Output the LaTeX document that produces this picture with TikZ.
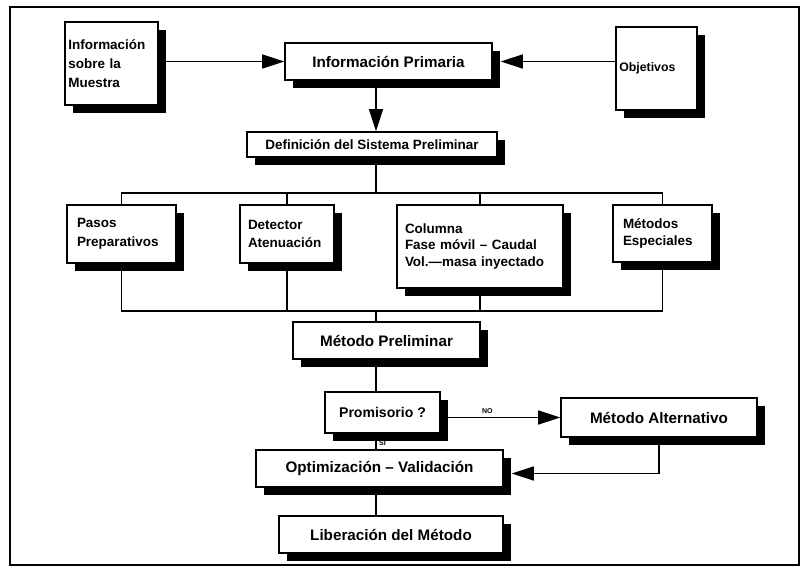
\documentclass[tikz,border=0pt]{standalone}
\usepackage{fontspec}
\setmainfont{Liberation Sans}
\usepackage{tikz}
\usetikzlibrary{arrows.meta,positioning,shadows,calc}

\begin{document}
\begin{tikzpicture}[
    x=0.3mm, y=-0.3mm, %one unit = one pixel of the scan
    caja/.style={draw, fill=white, line width=1.3pt, inner sep=1mm,
        drop shadow={shadow xshift=2.4mm, shadow yshift=-2.4mm,
        fill=black, opacity=1}},
    grande/.style={caja, font=\fontsize{13}{15}\selectfont\bfseries},
    media/.style={caja, font=\fontsize{11.5}{14}\selectfont\bfseries},
    chica/.style={caja, align=left,
        font=\fontsize{11.5}{16}\selectfont\bfseries},
    etiq/.style={font=\fontsize{6}{7}\selectfont\bfseries, inner sep=1pt},
    linea/.style={line width=1.3pt},
    >={Triangle[length=6.6mm,width=4.2mm]},
    ]

    \useasboundingbox (0,0) rectangle (801,576);

    %Marco
    \draw[line width=2.2pt] (10,7) rectangle (799,565);

    %Entradas
    \node[chica, text width=25.9mm, minimum height=24.9mm] (info)
        at (111.5,63.5) {Información\\sobre la\\Muestra};
    \node[grande, minimum width=62.1mm, minimum height=11.1mm] (prim)
        at (388.5,61.5) {Información Primaria};
    \node[chica, text width=22.3mm, minimum height=24.9mm,
        font=\fontsize{10.5}{13}\selectfont\bfseries] (obj)
        at (656.5,68.5) {Objetivos};

    %Sistema preliminar
    \node[media, minimum width=75mm, minimum height=7.5mm] (defi)
        at (372,144.5) {Definición del Sistema Preliminar};

    %Ramas
    \node[chica, inner xsep=3mm, text width=26.7mm, minimum height=17.4mm]
        (pasos) at (121.5,234) {Pasos\\Preparativos};
    \node[chica, inner xsep=2.4mm, text width=23.4mm, minimum height=17.4mm]
        (detec) at (287,234) {Detector\\Atenuación};
    \node[chica, inner xsep=2.4mm, text width=45mm, minimum height=24.9mm,
        font=\fontsize{11.5}{14}\selectfont\bfseries]
        (colum) at (480,246.5) {Columna\\Fase móvil -- Caudal\\Vol.---masa inyectado};
    \node[chica, inner xsep=3mm, text width=23.7mm, minimum height=17.1mm,
        font=\fontsize{11.5}{14}\selectfont\bfseries]
        (metesp) at (662.5,233.5) {Métodos\\Especiales};

    %Metodo
    \node[grande, minimum width=56.1mm, minimum height=11.1mm] (prel)
        at (386.5,340.5) {Método Preliminar};
    \node[media, minimum width=34.5mm, minimum height=12.3mm,
        font=\fontsize{12}{14}\selectfont\bfseries] (prom)
        at (382.5,412.5) {Promisorio ?};
    \node[grande, minimum width=58.8mm, minimum height=11.7mm] (alt)
        at (659,417.5) {Método Alternativo};
    \node[grande, minimum width=74.1mm, minimum height=11.1mm] (opti)
        at (379.5,468.5) {Optimización -- Validación};
    \node[grande, minimum width=67.2mm, minimum height=11.1mm] (libe)
        at (391,534.5) {Liberación del Método};

    %Ejes
    \coordinate (axis) at (376,0);
    \coordinate (bustop) at (0,193);
    \coordinate (busbot) at (0,311);

    %Flechas de entrada
    \draw[linea,->] (info.east |- prim) -- (prim.west);
    \draw[linea,->] (obj.west |- prim) -- ([xshift=2.4mm]prim.east);
    \draw[linea,->] (prim.south -| axis) -- (defi.north -| axis);

    %Bus superior
    \draw[linea] (defi.south -| axis) -- (axis |- bustop);
    \draw[linea] (pasos.north) -- (pasos.north |- bustop)
        -- (metesp.north |- bustop) -- (metesp.north);
    \draw[linea] (detec.north) -- (detec.north |- bustop);
    \draw[linea] (colum.north) -- (colum.north |- bustop);

    %Bus inferior
    \draw[linea] (pasos.south) -- (pasos.south |- busbot)
        -- (metesp.south |- busbot) -- (metesp.south);
    \draw[linea] (detec.south) -- (detec.south |- busbot);
    \draw[linea] (colum.south) -- (colum.south |- busbot);
    \draw[linea] (axis |- busbot) -- (prel.north -| axis);

    %Decision
    \draw[linea] (prel.south -| axis) -- (prom.north -| axis);
    \draw[linea,->] (prom.east |- alt) -- node[etiq, pos=0.39, above=2pt] {NO}
        (alt.west);
    \draw[linea] (prom.south -| axis) -- node[etiq, pos=0.62, right=1pt] {SI}
        (opti.north -| axis);
    \draw[linea,->] (alt.south) |- ([xshift=2.4mm,yshift=-1.5mm]opti.east);
    \draw[linea] (opti.south -| axis) -- (libe.north -| axis);

\end{tikzpicture}
\end{document}
